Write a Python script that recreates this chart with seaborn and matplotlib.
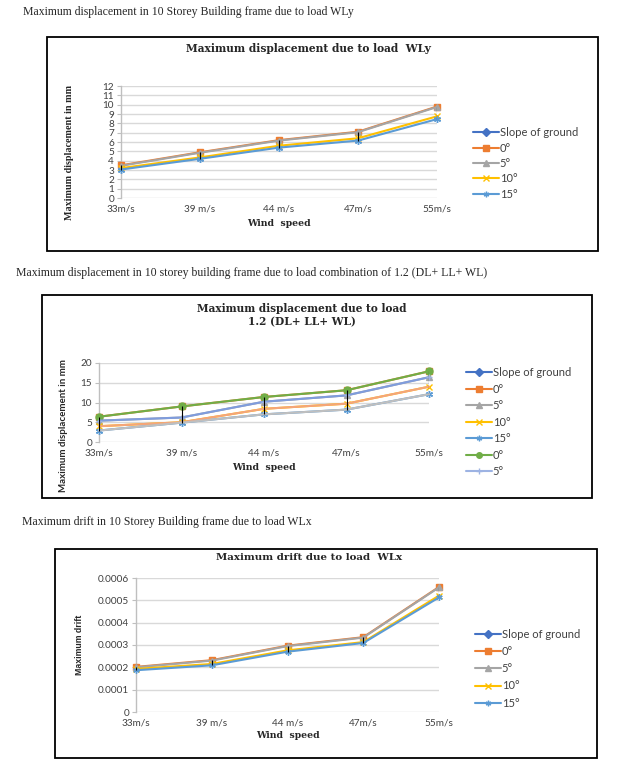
import numpy as np
import matplotlib
matplotlib.use('Agg')
import matplotlib.pyplot as plt
import seaborn as sns
from matplotlib.lines import Line2D
from matplotlib.patches import Rectangle

sns.set_style('white')
plt.rcParams['font.family'] = ['Lato', 'DejaVu Sans']

# -----------------------
# data

wind = ['33m/s', '39 m/s', '44 m/s', '47m/s', '55m/s']

# max displacement due to WLy (mm)
wly_slope = [np.nan] * 5
wly_0 = [3.5, 4.9, 6.2, 7.1, 9.8]
wly_5 = [3.45, 4.85, 6.15, 7.05, 9.75]
wly_10 = [3.2, 4.35, 5.6, 6.4, 8.75]
wly_15 = [3.05, 4.2, 5.4, 6.15, 8.45]

# max displacement due to 1.2 (DL+LL+WL) (mm)
comb_slope = [np.nan] * 5
comb_0 = [6.4, 9.0, 11.4, 13.1, 17.9]
comb_5 = [5.4, 6.2, 10.2, 11.8, 16.4]
comb_10 = [4.0, 5.0, 8.4, 9.7, 14.0]
comb_15 = [2.9, 4.9, 7.0, 8.2, 12.1]
comb_0b = [6.4, 9.0, 11.4, 13.1, 17.9]
comb_5b = [5.4, 6.2, 10.2, 11.8, 16.4]
comb_10b = [4.0, 5.0, 8.4, 9.7, 14.0]
comb_15b = [2.9, 4.9, 7.0, 8.2, 12.1]

# max drift due to WLx
wlx_slope = [np.nan] * 5
wlx_0 = [0.000202, 0.000232, 0.000297, 0.000335, 0.000560]
wlx_5 = [0.000200, 0.000230, 0.000295, 0.000333, 0.000558]
wlx_10 = [0.000193, 0.000215, 0.000276, 0.000313, 0.000521]
wlx_15 = [0.000187, 0.000209, 0.000270, 0.000309, 0.000513]

# -----------------------

W, H = 630, 768
fig = plt.figure(figsize=(W / 100, H / 100), dpi=100)

def fx(px):
	return px / W

def fy(py):
	return 1 - py / H

serif = ['Liberation Serif', 'DejaVu Serif']
wide_serif = ['DejaVu Serif']
pos = np.arange(len(wind))

# label, values, line colour, marker, marker colour, in legend
def series_list(slope, s0, s5, s10, s15):
	return [
		('Slope of ground', slope, '#4472C4', 'D', '#4472C4', True),
		('0°', s0, '#ED7D31', 's', '#ED7D31', True),
		('5°', s5, '#A5A5A5', '^', '#A5A5A5', True),
		('10°', s10, '#FFC000', 'x', '#FFC000', True),
		('15°', s15, '#5B9BD5', (6, 2, 0), '#5B9BD5', True),
	]

def box(x0, y0, x1, y1):
	fig.add_artist(Rectangle((fx(x0), fy(y1)), fx(x1) - fx(x0), fy(y0) - fy(y1),
		transform=fig.transFigure, fill=False, ec='black', lw=1.3))

def chart(rect, series, ymax, ystep, ms, fmt=None):
	x0, y0, x1, y1 = rect
	ax = fig.add_axes([fx(x0), fy(y1), fx(x1) - fx(x0), fy(y0) - fy(y1)])
	for lab, vals, lc, mk, mc, _ in series:
		vals = np.asarray(vals, dtype=float)
		if np.all(np.isnan(vals)):
			continue
		sns.lineplot(x=pos, y=vals, ax=ax, color=lc, lw=1.5, marker=mk, markersize=ms,
			markerfacecolor=mc, markeredgecolor=mc, markeredgewidth=1,
			clip_on=False, legend=False, zorder=4)
	# high-low lines
	allv = np.array([s[1] for s in series], dtype=float)
	ax.vlines(pos, np.nanmin(allv, axis=0), np.nanmax(allv, axis=0),
		color='black', lw=0.8, zorder=5)
	ax.set_xlim(0, len(wind) - 1)
	ax.set_ylim(0, ymax)
	ticks = np.arange(0, ymax + ystep / 2, ystep)
	ax.set_yticks(ticks)
	if fmt is not None:
		ax.set_yticklabels([fmt(t) for t in ticks])
	ax.set_xticks(pos)
	ax.set_xticklabels(wind)
	ax.grid(axis='y', color='#D9D9D9', lw=1)
	ax.grid(axis='x', visible=False)
	for sp in ['top', 'right', 'bottom']:
		ax.spines[sp].set_visible(False)
	ax.spines['left'].set_color('#BFBFBF')
	ax.spines['left'].set_linewidth(1)
	ax.tick_params(axis='y', length=3, color='#BFBFBF', pad=2, labelsize=7.2, labelcolor='#404040', left=True)
	ax.tick_params(axis='x', length=0, pad=5, labelsize=7.2, labelcolor='#404040')
	ax.set_xlabel('')
	ax.set_ylabel('')
	return ax

def legend(series, x, y, spacing, ms):
	hs = [Line2D([], [], color=mc, lw=1.5, marker=mk, markersize=ms,
		markerfacecolor=mc, markeredgecolor=mc, markeredgewidth=1)
		for lab, vals, lc, mk, mc, show in series if show]
	labs = [s[0] for s in series if s[5]]
	fig.legend(hs, labs, loc='upper left', bbox_to_anchor=(fx(x), fy(y)),
		frameon=False, borderpad=0, borderaxespad=0, handlelength=2.3,
		handletextpad=0.1, labelspacing=spacing, fontsize=8, labelcolor='#404040')

# ----------------------- chart 1

fig.text(fx(23), fy(12), 'Maximum displacement in 10 Storey Building frame due to load WLy',
	family=serif, fontsize=8.5, va='center', ha='left')
box(47, 37, 598, 251)
fig.text(fx(308), fy(49), 'Maximum displacement due to load  WLy', family=wide_serif,
	fontsize=7.7, weight='bold', ha='center', va='center')
s1 = series_list(wly_slope, wly_0, wly_5, wly_10, wly_15)
chart((121, 86, 437, 198), s1, 12, 1, 5)
fig.text(fx(69), fy(152), 'Maximum displacement in mm', family=serif, fontsize=7.3,
	weight='bold', rotation=90, ha='center', va='center')
fig.text(fx(279), fy(223), 'Wind  speed', family=wide_serif, fontsize=6.7, weight='bold',
	ha='center', va='center')
legend(s1, 473, 127.3, 0.39, 4)

# ----------------------- chart 2

fig.text(fx(16), fy(273), 'Maximum displacement in 10 storey building frame due to load combination of 1.2 (DL+ LL+ WL)',
	family=serif, fontsize=8.5, va='center', ha='left')
box(42, 295, 592, 498)
fig.text(fx(302), fy(309), 'Maximum displacement due to load', family=wide_serif,
	fontsize=7.6, weight='bold', ha='center', va='center')
fig.text(fx(302), fy(322), '1.2 (DL+ LL+ WL)', family=wide_serif,
	fontsize=7.6, weight='bold', ha='center', va='center')
s2 = [
	('Slope of ground', comb_slope, '#4472C4', 'D', '#4472C4', True),
	('0°', comb_0, '#ED7D31', 's', '#ED7D31', True),
	('5°', comb_5, '#A5A5A5', '^', '#A5A5A5', True),
	('10°', comb_10, '#FFC000', 'x', '#FFC000', True),
	('15°', comb_15, '#5B9BD5', (6, 2, 0), '#5B9BD5', True),
	('0°', comb_0b, '#70AD47', 'o', '#70AD47', True),
	('5°', comb_5b, '#7F9CDD', '+', '#9DB3E3', True),
	('10°', comb_10b, '#F4A57A', '', '#F4A57A', False),
	('15°', comb_15b, '#BFBFBF', '', '#BFBFBF', False),
]
chart((99, 363, 429, 442), s2, 20, 5, 5)
fig.text(fx(64), fy(426), 'Maximum displacement in mm', fontsize=7, weight='bold',
	rotation=90, ha='center', va='center')
fig.text(fx(264), fy(468), 'Wind  speed', family=wide_serif, fontsize=6.7, weight='bold',
	ha='center', va='center')
legend(s2, 466, 367.3, 0.49, 4)

# ----------------------- chart 3

fig.text(fx(22), fy(522), 'Maximum drift in 10 Storey Building frame due to load WLx',
	family=serif, fontsize=8.5, va='center', ha='left')
box(55, 549, 597, 758)
fig.text(fx(309), fy(557), 'Maximum drift due to load  WLx', family=wide_serif,
	fontsize=7.4, weight='bold', ha='center', va='center')
s3 = series_list(wlx_slope, wlx_0, wlx_5, wlx_10, wlx_15)
chart((136, 578, 439, 712), s3, 0.0006, 0.0001, 4.5,
	fmt=lambda t: '0' if t == 0 else '%.4f' % t)
fig.text(fx(79), fy(645), 'Maximum drift', family=['Liberation Sans Narrow', 'Liberation Sans'],
	fontsize=6.3, weight='bold', rotation=90, ha='center', va='center')
fig.text(fx(288), fy(736), 'Wind  speed', family=wide_serif, fontsize=6.7, weight='bold',
	ha='center', va='center')
legend(s3, 475, 628.8, 0.56, 4)

fig.savefig('out.png', dpi=100)
